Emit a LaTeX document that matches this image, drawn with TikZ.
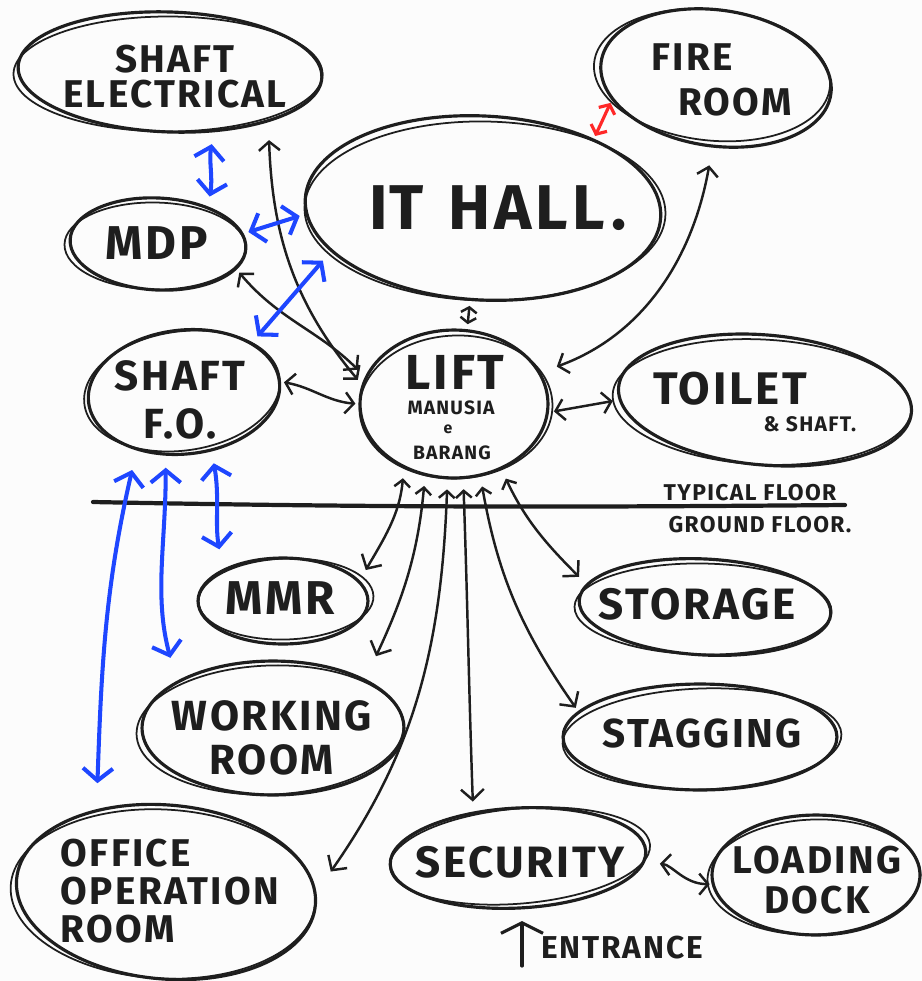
\documentclass[tikz,border=0pt]{standalone}
\usepackage{fontspec}
\setmainfont{Fira Sans}[LetterSpace=6]
\usetikzlibrary{arrows.meta,shapes.geometric,calc}
\definecolor{ink}{RGB}{30,30,30}
\definecolor{penblue}{RGB}{30,70,255}
\definecolor{penred}{RGB}{255,40,40}
\definecolor{paper}{RGB}{252,252,252}

% room outline: ellipse node plus a second, slightly offset pen stroke
% #1 name, #2 x, #3 y, #4 x radius, #5 y radius, #6 tilt, #7/#8 offset of the second stroke
\newcommand\sketchroom[8]{%
  \node[roomshape, minimum width=#4*0.04cm, minimum height=#5*0.04cm, rotate=#6] (#1) at (#2,#3) {};
  \draw[roomtrace] ($(#1.center)+(#7,#8)$) ellipse [x radius=#4*0.02cm+0.05cm, y radius=#5*0.02cm-0.05cm, rotate=#6+2];
}

\tikzset{
  roomshape/.style={ellipse, draw=ink, line width=1.8pt, inner sep=0pt},
  roomtrace/.style={draw=ink, line width=1pt},
  lbl/.style={text=ink, align=center, inner sep=0pt},
  link/.style={draw=ink, line width=1.4pt, line cap=round,
    {Straight Barb[length=5pt,width=12pt]}-{Straight Barb[length=5pt,width=12pt]}},
  shortlink/.style={draw=ink, line width=1.4pt, line cap=round,
    {Straight Barb[length=3pt,width=9pt]}-{Straight Barb[length=3pt,width=9pt]}},
  fan/.style={draw=ink, line width=1.4pt, line cap=round,
    {Straight Barb[length=4pt,width=9pt]}-{Straight Barb[length=6pt,width=13pt]}},
  blink/.style={draw=penblue, line width=2.3pt, line cap=round,
    {Straight Barb[length=7pt,width=17pt]}-{Straight Barb[length=7pt,width=17pt]}},
  rlink/.style={draw=penred, line width=1.8pt, line cap=round,
    {Straight Barb[length=4pt,width=10pt]}-{Straight Barb[length=4pt,width=10pt]}},
  entarrow/.style={draw=ink, line width=1.8pt, line cap=round,
    -{Straight Barb[length=6pt,width=24pt]}},
}

\begin{document}
\begin{tikzpicture}[x=0.02cm,y=-0.02cm]
\fill[paper] (0,0) rectangle (922,981);
\useasboundingbox (0,0) rectangle (922,981);

% ---------- rooms ----------
\sketchroom{se}{170}{72}{152}{60}{-2}{-2}{2}
\sketchroom{fire}{716}{78}{116}{68}{-8}{-4}{-3}
\sketchroom{it}{483}{208}{178}{92}{-3}{2}{3}
\sketchroom{mdp}{158}{244}{88}{46}{-3}{-3}{2}
\sketchroom{sfo}{184}{392}{96}{62}{6}{-2}{-1}
\sketchroom{lift}{454}{404}{94}{74}{0}{2}{3}
\sketchroom{toilet}{765}{400}{147}{65}{-5}{-3}{2}
\sketchroom{mmr}{283}{601}{85}{43}{0}{3}{-2}
\sketchroom{storage}{705}{607}{126}{48}{-3}{-2}{2}
\sketchroom{work}{273}{728}{131}{67}{0}{-3}{2}
\sketchroom{stag}{700}{737}{137}{53}{0}{2}{2}
\sketchroom{office}{166}{892}{150}{87}{-5}{-3}{2}
\sketchroom{sec}{518}{858}{128}{50}{3}{2}{-2}
\sketchroom{dock}{816}{875}{104}{60}{0}{-2}{2}

% ---------- labels ----------
\node[lbl, font=\bfseries\fontsize{22}{20}\selectfont] (se-l) at (175,77) {SHAFT\\ELECTRICAL};
\node[lbl, font=\bfseries\fontsize{22}{22}\selectfont] (fire-a) at (692,57) {FIRE};
\node[lbl, font=\bfseries\fontsize{22}{22}\selectfont] (fire-b) at (735,102) {ROOM};
\node[lbl, font=\bfseries\fontsize{36}{36}\selectfont] (it-l) at (498,208) {I\kern1pt T\hspace{0.4em}HALL\kern4pt.};
\node[lbl, font=\bfseries\fontsize{27}{27}\selectfont] (mdp-l) at (157,243) {MDP};
\node[lbl, font=\bfseries\fontsize{24}{27}\selectfont] (sfo-l) at (180,400) {SHAFT\\F.O.};
\node[lbl, font=\bfseries\fontsize{28}{28}\selectfont] (lift-l) at (455,372) {LIFT};
\node[lbl, font=\bfseries\fontsize{11}{11}\selectfont] (lift-a) at (451,408) {MANUSIA};
\node[lbl, font=\bfseries\fontsize{9}{9}\selectfont] (lift-b) at (448,429) {e};
\node[lbl, font=\bfseries\fontsize{11}{11}\selectfont] (lift-c) at (452,453) {BARANG};
\node[lbl, font=\bfseries\fontsize{26}{26}\selectfont] (toilet-l) at (730,389) {TOILET};
\node[lbl, font=\bfseries\fontsize{12}{12}\selectfont] (toilet-s) at (810,424) {\& SHAFT.};
\node[lbl, font=\bfseries\fontsize{13}{13}\selectfont] (typ-l) at (750,493) {TYPICAL FLOOR};
\node[lbl, font=\bfseries\fontsize{13}{13}\selectfont] (gnd-l) at (760,525) {GROUND FLOOR.};
\node[lbl, font=\bfseries\fontsize{27}{27}\selectfont] (mmr-l) at (280,598) {MMR};
\node[lbl, font=\bfseries\fontsize{25}{25}\selectfont] (storage-l) at (697,604) {STORAGE};
\node[lbl, font=\bfseries\fontsize{24}{25}\selectfont] (work-l) at (272,738) {WORKING\\ROOM};
\node[lbl, font=\bfseries\fontsize{23}{23}\selectfont] (stag-l) at (702,733) {STAGGING};
\node[lbl, align=left, font=\bfseries\fontsize{22}{21.5}\selectfont] (office-l) at (170,891) {OFFICE\\OPERATION\\ROOM};
\node[lbl, font=\bfseries\fontsize{25}{25}\selectfont] (sec-l) at (520,862) {SECURITY};
\node[lbl, font=\bfseries\fontsize{22}{23}\selectfont] (dock-l) at (817,880) {LOADING\\DOCK};
\node[lbl, font=\bfseries\fontsize{18}{18}\selectfont] (ent-l) at (622,948) {ENTRANCE};

% ---------- floor division ----------
\coordinate (floorW) at (93,502);
\coordinate (floorE) at (845,505);
\draw[ink, line width=2.4pt, line cap=round] (floorW) .. controls (400,508) and (600,507) .. (floorE);

% ---------- upper floor links ----------
\draw[link, shorten <=0.36cm, shorten >=0.12cm] (se.-25) to[out=-88,in=130] (lift.168);
\draw[link, shorten <=0.08cm, shorten >=0.2cm] (mdp.-15) to[out=-50,in=135] (lift.163);
\draw[link, shorten <=0.06cm, shorten >=0.06cm] (sfo.east) to[out=-10,in=175] (lift.west);
\draw[shortlink, shorten <=0.1cm, shorten >=0.1cm] (it.-95) -- (lift.80);
\draw[link, shorten <=0.1cm, shorten >=0.12cm] (lift.-5) -- (toilet.185);
\draw[link, shorten <=0.36cm, shorten >=0.34cm] (fire.-85) to[out=-100,in=20] (lift.20);
\draw[rlink, shorten <=0.06cm, shorten >=0.06cm] (it.35) -- (fire.200);

% ---------- lift to ground floor ----------
\draw[fan, shorten <=0.2cm, shorten >=0.24cm] (lift.-128) to[out=-95,in=60] (mmr.15);
\draw[fan, shorten <=0.2cm, shorten >=0.5cm] (lift.-112) to[out=-95,in=65] (work.28);
\draw[fan, shorten <=0.2cm, shorten >=0.5cm] (lift.-95) to[out=-92,in=55] (office.5);
\draw[fan, shorten <=0.2cm, shorten >=0.2cm] (lift.-83) to[out=-88,in=92] (sec.131);
\draw[fan, shorten <=0.2cm, shorten >=0.08cm] (lift.-70) to[out=-80,in=125] (stag.168);
\draw[fan, shorten <=0.2cm, shorten >=0.2cm] (lift.-54) to[out=-65,in=135] (storage.172);
\draw[link, shorten <=0.3cm, shorten >=0.04cm] (sec.-5) to[out=-5,in=180] (dock.185);

% ---------- fibre / power links ----------
\draw[blink, shorten <=0.24cm, shorten >=0.2cm] (se.-52) to[out=-100,in=80] (mdp.40);
\draw[blink, shorten <=0.1cm, shorten >=0.12cm] (mdp.10) -- (it.185);
\draw[blink, shorten <=0.16cm, shorten >=0.24cm] (sfo.30) -- (it.199);
\draw[blink, shorten <=0.24cm, shorten >=0.4cm] (sfo.-71) to[out=-80,in=100] (mmr.152);
\draw[blink, shorten <=0.24cm, shorten >=0.48cm] (sfo.-112) to[out=-90,in=105] (work.154);
\draw[blink, shorten <=0.4cm, shorten >=0.52cm] (sfo.-135) to[out=-103,in=88] (office.135);

% ---------- entrance ----------
\coordinate (entFoot) at (522,966);
\coordinate (entHead) at (522,921);
\draw[entarrow] (entFoot) -- (entHead);
\end{tikzpicture}
\end{document}
